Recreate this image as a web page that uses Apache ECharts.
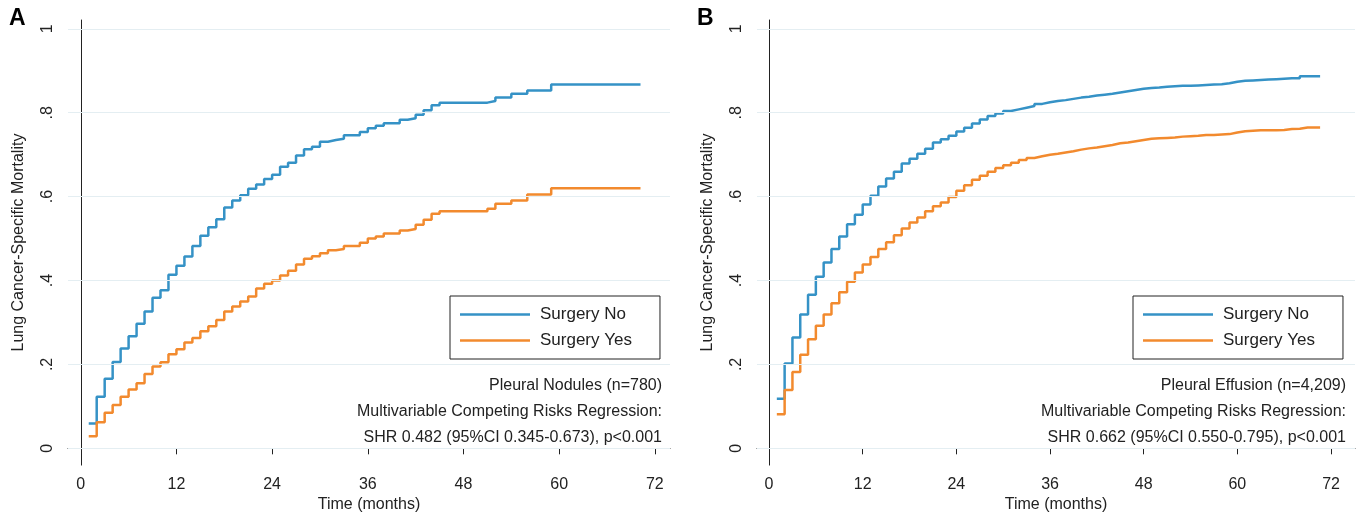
<!DOCTYPE html>
<html>
<head>
<meta charset="utf-8">
<style>
html, body { margin: 0; padding: 0; background: #fff; }
#chart-panel { width: 1358px; height: 518px; }
</style>
<script src="https://cdn.jsdelivr.net/npm/echarts@6/dist/echarts.min.js"></script>
</head>
<body>
<div id="chart-panel"></div>
<script type="text/javascript">
// month 1, 2, 3 ... each value holds until the next month
var noA = [.059, .123, .166, .206, .238, .267, .297, .326, .359, .377,
           .414, .435, .457, .482, .507, .527, .546, .574, .591, .603,
           .619, .629, .642, .652, .671, .681, .698, .713, .719, .731,
           .735, .738, .746, .746, .754, .763, .769, .775, .775, .783,
           .787, .795, .806, .818, .824, .824, .824, .824, .824, .824,
           .828, .836, .836, .845, .845, .853, .853, .853, .867, .867,
           .867, .867, .867, .867, .867, .867, .867, .867, .867, .867];
var yesA = [.029, .062, .085, .103, .123, .140, .155, .177, .195, .205,
            .224, .236, .252, .263, .279, .291, .306, .326, .338, .350,
            .362, .381, .392, .400, .412, .423, .438, .452, .458, .465,
            .472, .475, .482, .482, .490, .500, .505, .512, .512, .519,
            .523, .533, .545, .559, .565, .565, .565, .565, .565, .565,
            .571, .583, .583, .591, .591, .605, .605, .605, .620, .620,
            .620, .620, .620, .620, .620, .620, .620, .620, .620, .620];
var noB = [.118, .202, .264, .319, .366, .409, .443, .475, .505, .534,
           .557, .581, .602, .624, .643, .659, .679, .690, .702, .714,
           .729, .737, .745, .755, .764, .774, .784, .792, .798, .804,
           .808, .812, .816, .821, .825, .828, .830, .833, .836, .838,
           .841, .843, .845, .848, .851, .854, .857, .859, .860, .862,
           .863, .864, .864, .865, .866, .867, .868, .870, .874, .876,
           .877, .878, .879, .880, .881, .882, .882, .887, .887, .887];
var yesB = [.081, .139, .182, .223, .260, .292, .319, .346, .372, .397,
            .419, .438, .456, .475, .491, .508, .524, .538, .550, .565,
            .577, .586, .599, .614, .627, .640, .650, .659, .668, .675,
            .681, .687, .692, .696, .700, .702, .705, .708, .712, .715,
            .717, .720, .723, .727, .729, .732, .735, .738, .739, .740,
            .741, .743, .744, .745, .747, .747, .748, .749, .753, .756,
            .757, .758, .758, .758, .759, .761, .762, .765, .765, .765];
var endA = 70.2, endB = 70.6;
var xTicks = [0, 12, 24, 36, 48, 60, 72];
var yTicks = [0, .2, .4, .6, .8, 1];
var noteA = ['Pleural Nodules (n=780)', 'Multivariable Competing Risks Regression:', 'SHR 0.482 (95%CI 0.345-0.673), p<0.001'];
var noteB = ['Pleural Effusion (n=4,209)', 'Multivariable Competing Risks Regression:', 'SHR 0.662 (95%CI 0.550-0.795), p<0.001'];

var BLUE = '#3592c6', ORANGE = '#f28a2e', GRID = '#e4eef2', INK = '#222';
var FONT = 'Liberation Sans, Arial, sans-serif';

function steps(vals, end) {
    var d = vals.map(function (v, i) { return [i + 1, v]; });
    d.push([end, vals[vals.length - 1]]);
    return d;
}

function xAx(i, min, max) {
    return {
        gridIndex: i, type: 'value', min: min, max: max,
        name: 'Time (months)', nameLocation: 'middle', nameGap: 30,
        nameTextStyle: { color: INK, fontSize: 16, fontFamily: FONT },
        axisLine: { lineStyle: { color: INK, width: 1 } },
        axisTick: { customValues: xTicks, length: 6, lineStyle: { color: INK } },
        axisLabel: { customValues: xTicks, color: INK, fontSize: 16, fontFamily: FONT, margin: 11 },
        splitLine: { show: false }
    };
}
function yAx(i) {
    return {
        gridIndex: i, type: 'value', min: -0.04, max: 1.021,
        name: 'Lung Cancer-Specific Mortality', nameLocation: 'middle', nameGap: 41, nameRotate: 90,
        nameTextStyle: { color: INK, fontSize: 16, fontFamily: FONT },
        axisLine: { show: true, lineStyle: { color: INK, width: 1 } },
        axisTick: { show: true, customValues: yTicks, length: 6, lineStyle: { color: INK } },
        axisLabel: {
            customValues: yTicks, rotate: 90, color: INK, fontSize: 16, fontFamily: FONT, margin: 12,
            formatter: function (v) { return (v === 0 || v === 1) ? String(v) : String(+v.toFixed(1)).replace('0.', '.'); }
        },
        splitLine: { show: false }
    };
}
function gridSeries(i) {
    return {
        type: 'line', name: 'grid' + i, xAxisIndex: i, yAxisIndex: i, data: [], z: 1, silent: true,
        markLine: {
            silent: true, symbol: ['none', 'none'], label: { show: false },
            lineStyle: { color: GRID, width: 1.2, type: 'solid' },
            data: yTicks.map(function (v) { return { yAxis: v }; })
        }
    };
}
function curve(i, name, color, data) {
    return {
        type: 'line', name: name, xAxisIndex: i, yAxisIndex: i, step: 'end',
        symbol: 'none', z: 3, color: color, lineStyle: { color: color, width: 2.5 }, data: data
    };
}
function legend(left) {
    return {
        data: ['Surgery No', 'Surgery Yes'], orient: 'vertical', left: left, top: 296,
        backgroundColor: '#fff', borderColor: INK, borderWidth: 1, borderRadius: 0,
        padding: [10, 28, 10, 10], itemGap: 9, itemWidth: 70, itemHeight: 2.5, icon: 'rect',
        textStyle: { color: INK, fontSize: 17, fontFamily: FONT, padding: [0, 0, 0, 5] }
    };
}
function notes(lines, right) {
    return lines.map(function (t, k) {
        return {
            type: 'text', right: right, top: 378 + 26 * k,
            style: { text: t, fill: INK, font: '16px ' + FONT, textAlign: 'right' }
        };
    });
}

var myChart = echarts.init(document.getElementById('chart-panel'), null, { renderer: 'canvas' });
var option = {
    animation: false,
    backgroundColor: '#fff',
    grid: [
        { left: 68, right: 688, top: 20, bottom: 45 },
        { left: 757, right: 3, top: 20, bottom: 45 }
    ],
    xAxis: [xAx(0, -1.6, 73.9), xAx(1, -1.54, 75.07)],
    yAxis: [yAx(0), yAx(1)],
    legend: [legend(450), legend(1133)],
    series: [
        gridSeries(0), gridSeries(1),
        curve(0, 'Surgery No', BLUE, steps(noA, endA)),
        curve(0, 'Surgery Yes', ORANGE, steps(yesA, endA)),
        curve(1, 'Surgery No', BLUE, steps(noB, endB)),
        curve(1, 'Surgery Yes', ORANGE, steps(yesB, endB))
    ],
    graphic: [
        { type: 'text', left: 9, top: 7, style: { text: 'A', fill: '#000', font: 'bold 23px ' + FONT } },
        { type: 'text', left: 697, top: 7, style: { text: 'B', fill: '#000', font: 'bold 23px ' + FONT } }
    ].concat(notes(noteA, 1358 - 662)).concat(notes(noteB, 12))
};
myChart.setOption(option);
</script>
</body>
</html>
